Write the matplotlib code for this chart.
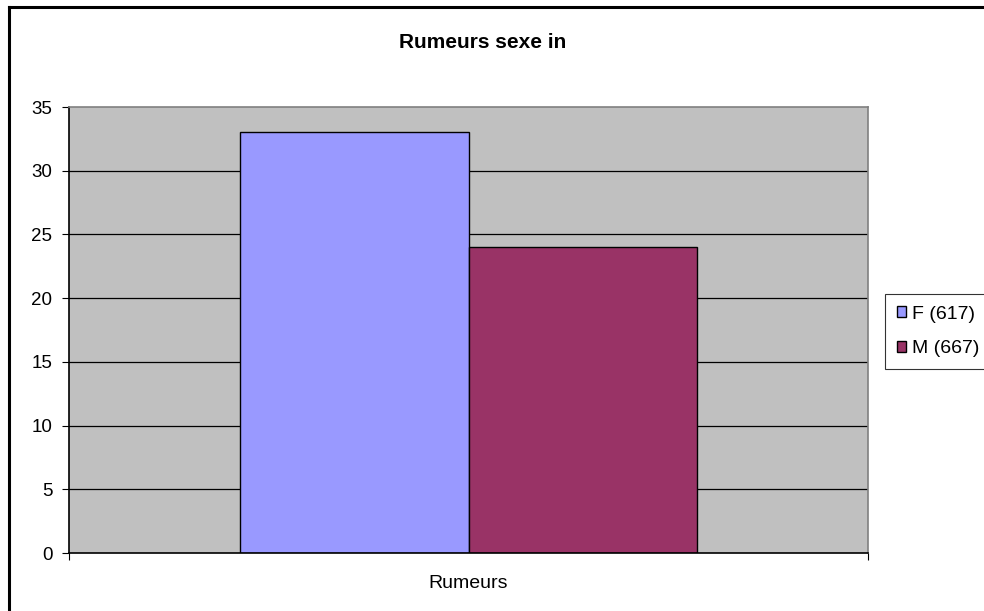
import matplotlib
matplotlib.use("Agg")
import matplotlib.pyplot as plt
from matplotlib.patches import Patch
from matplotlib.lines import Line2D

plt.rcParams['font.family'] = ['Liberation Sans', 'DejaVu Sans']

title = "Rumeurs sexe in"
category = "Rumeurs"
series_names = ["F (617)", "M (667)"]
series_values = [33, 24]
series_colors = ["#9999FF", "#993366"]
yticks = [0, 5, 10, 15, 20, 25, 30, 35]

W, H = 984, 611
fig = plt.figure(figsize=(W / 100, H / 100), dpi=100)

# outer chart frame (top and left visible)
fig.add_artist(Line2D([8.5 / W, 8.5 / W], [0, 1 - 6.5 / H], color="black", lw=2.2, transform=fig.transFigure))
fig.add_artist(Line2D([8.5 / W, 1], [1 - 6.5 / H, 1 - 6.5 / H], color="black", lw=2.2, transform=fig.transFigure))

left, right, top, bottom = 69, 868, 107, 553
ax = fig.add_axes([left / W, 1 - bottom / H, (right - left) / W, (bottom - top) / H])
ax.set_facecolor("#C0C0C0")

bw = 0.286
positions = [0.5 - bw / 2, 0.5 + bw / 2]
for pos, val, col, name in zip(positions, series_values, series_colors, series_names):
    ax.bar(pos, val, width=bw, color=col, edgecolor="black", linewidth=1.0, zorder=3, label=name)

ax.set_xlim(0, 1)
ax.set_ylim(0, 35)
ax.set_yticks(yticks)
ax.set_yticklabels([str(t) for t in yticks], fontsize=13.5)
for t in yticks[1:-1]:
    ax.axhline(t, color="black", lw=0.9, zorder=1)

ax.set_xticks([0, 1])
ax.set_xticklabels([])
ax.tick_params(axis="x", length=5, width=0.8, direction="out")
ax.tick_params(axis="y", length=5, width=0.8, direction="out", pad=7)
ax.text(0.5, -30 / (bottom - top), category, transform=ax.transAxes, ha="center", va="center", fontsize=14)

ax.spines["left"].set_color("black")
ax.spines["bottom"].set_color("black")
ax.spines["top"].set_color("#808080")
ax.spines["right"].set_color("#808080")
for s in ax.spines.values():
    s.set_linewidth(1.2)
ax.spines["bottom"].set_zorder(4)

fig.text(483 / W, 1 - 42 / H, title, ha="center", va="center", fontsize=15, fontweight="bold")

handles = [Patch(facecolor=c, edgecolor="black", label=n) for c, n in zip(series_colors, series_names)]
leg = fig.legend(handles=handles, loc="upper left", bbox_to_anchor=(885 / W, 1 - 294 / H),
                 fontsize=14, frameon=True, fancybox=False, edgecolor="black",
                 handlelength=0.5, handleheight=0.5, handletextpad=0.3,
                 borderpad=0.6, labelspacing=0.9, borderaxespad=0)
leg.get_frame().set_linewidth(0.8)

fig.savefig("out.png", dpi=100, facecolor="white")
